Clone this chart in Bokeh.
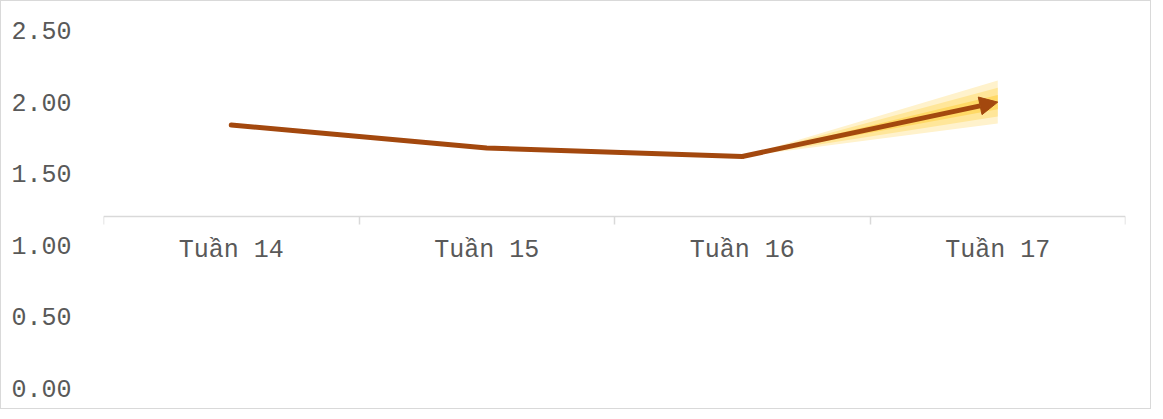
from bokeh.plotting import figure
from bokeh.models import (Range1d, FixedTicker, Arrow, NormalHead,
                          NumeralTickFormatter, LinearAxis)
from bokeh.embed import file_html
from bokeh.resources import INLINE
import numpy as np

# ---- data ----
weeks = ["Tuần 14", "Tuần 15", "Tuần 16", "Tuần 17"]
values = [1.84, 1.68, 1.62, 2.00]

# fan (uncertainty) bands on the last segment: Tuần 16 -> Tuần 17
fan_index = [2, 3]
fan_outer_low = [1.62, 1.85]
fan_outer_high = [1.62, 2.15]
fan_mid_low = [1.62, 1.90]
fan_mid_high = [1.62, 2.10]
fan_inner_low = [1.62, 1.95]
fan_inner_high = [1.62, 2.05]

y_ticks = [0.0, 0.5, 1.0, 1.5, 2.0, 2.5]
x_axis_cross = 1.2

FONT = "Liberation Mono"
TXT = "#595959"
LINE = "#A3480E"

n = len(weeks)
xc = list(np.arange(n) + 0.5)          # category centres
xb = list(np.arange(n + 1).astype(float))  # category boundaries
fx = [xc[i] for i in fan_index]

p = figure(width=1151, height=409, output_backend="svg", toolbar_location=None,
           x_range=Range1d(0, n), y_range=Range1d(y_ticks[0], y_ticks[-1]),
           min_border_left=102, min_border_right=27, min_border_top=29,
           min_border_bottom=22, x_axis_location=None)
p.styles = {"border": "1px solid #D9D9D9"}
p.outline_line_color = None
p.grid.visible = False
p.background_fill_color = "white"
p.border_fill_color = "white"

# fan bands
p.varea(x=fx, y1=fan_outer_low, y2=fan_outer_high, fill_color="#FFF2CC")
p.varea(x=fx, y1=fan_mid_low, y2=fan_mid_high, fill_color="#FFE699")
p.varea(x=fx, y1=fan_inner_low, y2=fan_inner_high, fill_color="#FFD966")

# main line
p.line(x=xc[:-1], y=values[:-1], line_color=LINE, line_width=5,
       line_cap="round", line_join="round")
p.add_layout(Arrow(x_start=xc[-2], y_start=values[-2], x_end=xc[-1], y_end=values[-1],
                   line_color=LINE, line_width=5, line_join="round",
                   end=NormalHead(size=18, fill_color=LINE, line_color=LINE, line_width=1)))

# y axis
ya = p.yaxis[0]
ya.ticker = FixedTicker(ticks=y_ticks)
ya.formatter = NumeralTickFormatter(format="0.00")
ya.axis_line_color = None
ya.major_tick_line_color = None
ya.minor_tick_line_color = None
ya.major_label_standoff = 26
ya.major_label_text_font = FONT
ya.major_label_text_font_size = "25px"
ya.major_label_text_color = TXT

# x axis crossing at x_axis_cross
xa = LinearAxis(fixed_location=x_axis_cross,
                ticker=FixedTicker(ticks=xc, minor_ticks=xb),
                major_label_overrides={float(c): w for c, w in zip(xc, weeks)})
xa.axis_line_color = "#D9D9D9"
xa.axis_line_width = 1.5
xa.major_tick_line_color = None
xa.minor_tick_line_color = "#D9D9D9"
xa.minor_tick_line_width = 1.5
xa.minor_tick_in = 0
xa.minor_tick_out = 8
xa.major_label_standoff = 11
xa.major_label_text_font = FONT
xa.major_label_text_font_size = "25px"
xa.major_label_text_color = TXT
p.add_layout(xa, "below")

open("out.html", "w").write(file_html(p, INLINE))
